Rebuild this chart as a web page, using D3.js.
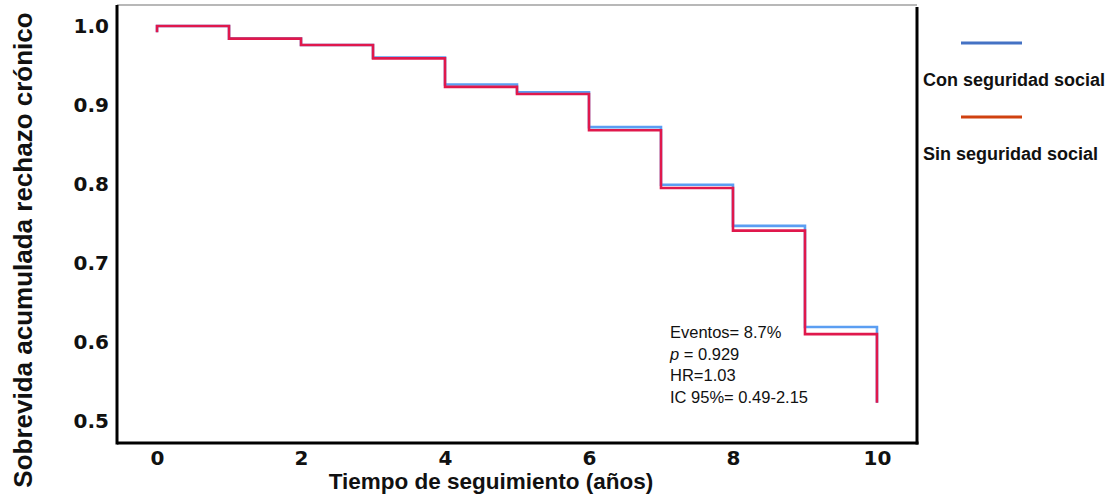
<!DOCTYPE html>
<meta charset="utf-8">
<style>
body { margin: 0; background: #fff; }
.tick text { font-family: "DejaVu Sans", sans-serif; font-weight: bold; font-size: 20px; fill: #111; }
.titulo { font-family: "Liberation Sans", Arial, sans-serif; font-weight: bold; fill: #111; }
.leyenda text { font-family: "Liberation Sans", Arial, sans-serif; font-weight: bold; font-size: 18px; fill: #111; }
.nota text { font-family: "Liberation Sans", Arial, sans-serif; font-size: 16.5px; fill: #111; }
.curva { fill: none; stroke-width: 2.6px; }
</style>
<svg width="1110" height="500"></svg>
<script src="https://d3js.org/d3.v7.min.js"></script>
<script>

// datos
var tiempos = [0, 1, 2, 3, 4, 5, 6, 7, 8, 9, 10];
var conSeguridad = [1.000, 0.984, 0.976, 0.960, 0.926, 0.916, 0.872, 0.799, 0.747, 0.619, 0.523];
var sinSeguridad = [1.000, 0.984, 0.976, 0.959, 0.923, 0.914, 0.868, 0.795, 0.741, 0.610, 0.523];
var valorInicial = 0.992;
var xTicks = [0, 2, 4, 6, 8, 10];
var yTicks = [0.5, 0.6, 0.7, 0.8, 0.9, 1.0];
var grupos = ["Con seguridad social", "Sin seguridad social"];
var notas = ["Eventos= 8.7%", "p = 0.929", "HR=1.03", "IC 95%= 0.49-2.15"];

var svg = d3.select("svg");

var mIzq = 117, mDer = 917, mSup = 5, mInf = 443;

var x = d3.scaleLinear().domain([-0.556, 10.556]).range([mIzq, mDer]);
var y = d3.scaleLinear().domain([0.4722, 1.0266]).range([mInf, mSup]);

// ejes
var gx = svg.append("g")
    .attr("transform", "translate(0," + mInf + ")")
    .call(d3.axisBottom(x).tickValues(xTicks).tickSize(0).tickPadding(8));
gx.select(".domain").remove();

var gy = svg.append("g")
    .attr("transform", "translate(" + mIzq + ",0)")
    .call(d3.axisLeft(y).tickValues(yTicks).tickFormat(d3.format(".1f")).tickSize(0).tickPadding(8));
gy.select(".domain").remove();

// curvas
var linea = d3.line()
    .x(function(d) { return x(d[0]); })
    .y(function(d) { return y(d[1]); })
    .curve(d3.curveStepAfter);

function puntos(valores) {
  var p = [[tiempos[0], valorInicial]];
  tiempos.forEach(function(t, i) { p.push([t, valores[i]]); });
  return p;
}

svg.append("path")
    .attr("class", "curva")
    .attr("stroke", "#5b9ef2")
    .attr("d", linea(puntos(conSeguridad)));

svg.append("path")
    .attr("class", "curva")
    .attr("stroke", "#e0184c")
    .attr("d", linea(puntos(sinSeguridad)));

// marco
svg.append("line").attr("x1", mIzq).attr("x2", mDer).attr("y1", mSup).attr("y2", mSup)
    .attr("stroke", "#b8b8b8").attr("stroke-width", 2);
svg.append("line").attr("x1", mIzq).attr("x2", mIzq).attr("y1", mSup).attr("y2", mInf + 1.5)
    .attr("stroke", "#000").attr("stroke-width", 3);
svg.append("line").attr("x1", mDer).attr("x2", mDer).attr("y1", mSup + 2).attr("y2", mInf + 1.5)
    .attr("stroke", "#000").attr("stroke-width", 3);
svg.append("line").attr("x1", mIzq).attr("x2", mDer + 1.5).attr("y1", mInf).attr("y2", mInf)
    .attr("stroke", "#000").attr("stroke-width", 3);

// titulos
svg.append("text")
    .attr("class", "titulo")
    .attr("x", 491).attr("y", 489)
    .attr("text-anchor", "middle")
    .style("font-size", "22.5px")
    .text("Tiempo de seguimiento (años)");

svg.append("text")
    .attr("class", "titulo")
    .attr("transform", "translate(32,250) rotate(-90)")
    .attr("text-anchor", "middle")
    .style("font-size", "26px")
    .text("Sobrevida acumulada rechazo crónico");

// leyenda
var leyenda = svg.append("g").attr("class", "leyenda");
var colLeyenda = ["#4472c4", "#d0410f"];
grupos.forEach(function(g, i) {
  var y0 = 43 + i * 74;
  leyenda.append("line")
      .attr("x1", 961).attr("x2", 1022).attr("y1", y0).attr("y2", y0)
      .attr("stroke", colLeyenda[i]).attr("stroke-width", 3);
  leyenda.append("text")
      .attr("x", 923).attr("y", y0 + 43)
      .text(g);
});

// notas
var nota = svg.append("g").attr("class", "nota");
notas.forEach(function(n, i) {
  var t = nota.append("text").attr("x", 670).attr("y", 338 + i * 21.7);
  if (n.indexOf("p =") === 0) {
    t.append("tspan").style("font-style", "italic").text("p");
    t.append("tspan").text(n.slice(1));
  } else {
    t.text(n);
  }
});

</script>
